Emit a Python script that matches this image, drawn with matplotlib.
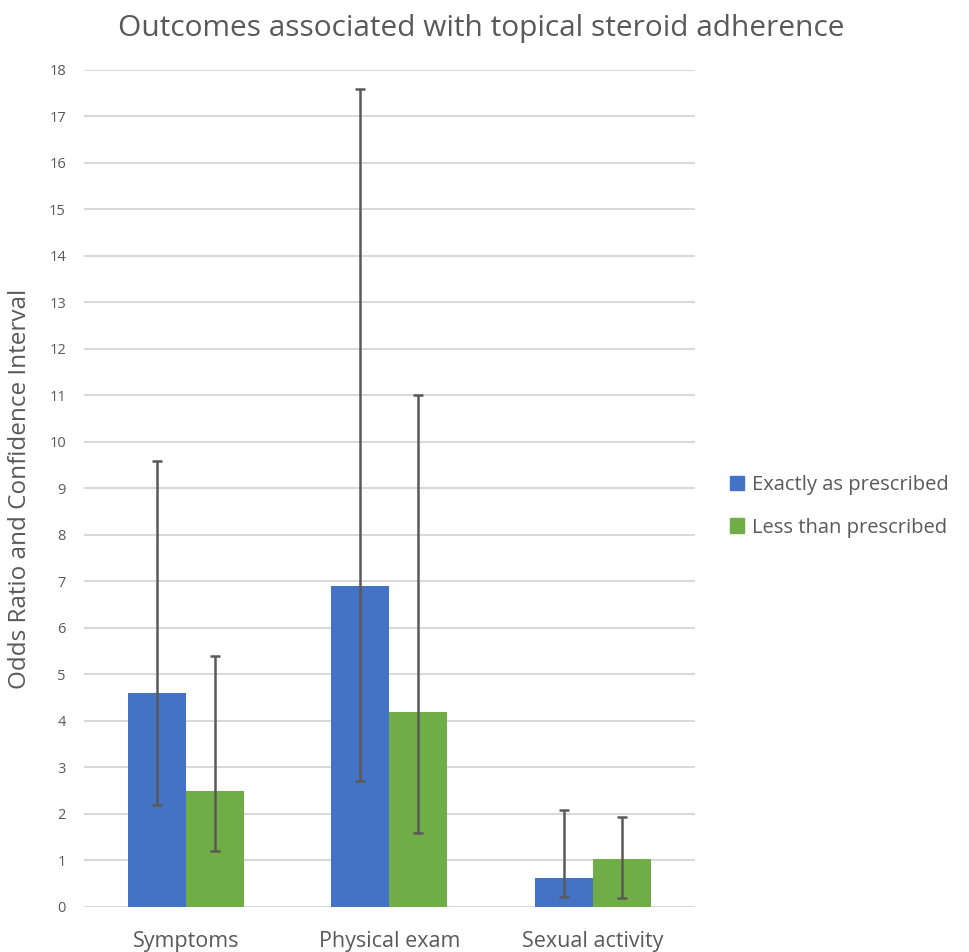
import numpy as np
import matplotlib.pyplot as plt
from matplotlib.patches import Patch

categories = ["Symptoms", "Physical exam", "Sexual activity"]
series_names = ["Exactly as prescribed", "Less than prescribed"]

exact_or = [4.6, 6.9, 0.62]
exact_lo = [2.2, 2.7, 0.21]
exact_hi = [9.6, 17.6, 2.09]

less_or = [2.5, 4.2, 1.04]
less_lo = [1.2, 1.6, 0.19]
less_hi = [5.4, 11.0, 1.94]

plt.rcParams['font.family'] = ['Open Sans', 'DejaVu Sans']
text_color = '#595959'
colors = ['#4472C4', '#70AD47']

fig = plt.figure(figsize=(9.69, 9.52), dpi=100)
ax = fig.add_axes([0.0867, 0.0473, 0.6303, 0.8792])

x = np.arange(len(categories))
width = 0.285

for i, (vals, lo, hi) in enumerate([(exact_or, exact_lo, exact_hi), (less_or, less_lo, less_hi)]):
    pos = x + (i - 0.5) * width
    vals = np.array(vals)
    yerr = [vals - np.array(lo), np.array(hi) - vals]
    ax.bar(pos, vals, width, color=colors[i], zorder=2)
    ax.errorbar(pos, vals, yerr=yerr, fmt='none', ecolor='#595959', elinewidth=1.8,
                capsize=3.8, capthick=1.8, zorder=3)

ax.set_xlim(-0.5, len(categories) - 0.5)
ax.set_ylim(0, 18)
ax.set_yticks(range(0, 19))
ax.yaxis.grid(True, color='#d9d9d9', linewidth=1.5, zorder=0)
ax.set_axisbelow(True)
for s in ax.spines.values():
    s.set_visible(False)
ax.tick_params(axis='both', length=0, colors=text_color)
ax.tick_params(axis='y', labelsize=10.5, pad=13)
ax.set_xticks(x)
ax.set_xticklabels(categories, fontsize=15.5)
ax.tick_params(axis='x', pad=17)

ax.set_ylabel("Odds Ratio and Confidence Interval", fontsize=17.5, color=text_color, labelpad=12)
fig.suptitle("Outcomes associated with topical steroid adherence", fontsize=21.5,
             color=text_color, x=0.497, y=0.985)

handles = [Patch(color=c) for c in colors]
fig.legend(handles, series_names, loc='center left', bbox_to_anchor=(0.753, 0.468),
           frameon=False, fontsize=14.5, labelcolor=text_color, handlelength=0.7,
           handleheight=0.7, handletextpad=0.4, labelspacing=1.1,
           borderpad=0, borderaxespad=0)

fig.savefig("out.png", dpi=100)
